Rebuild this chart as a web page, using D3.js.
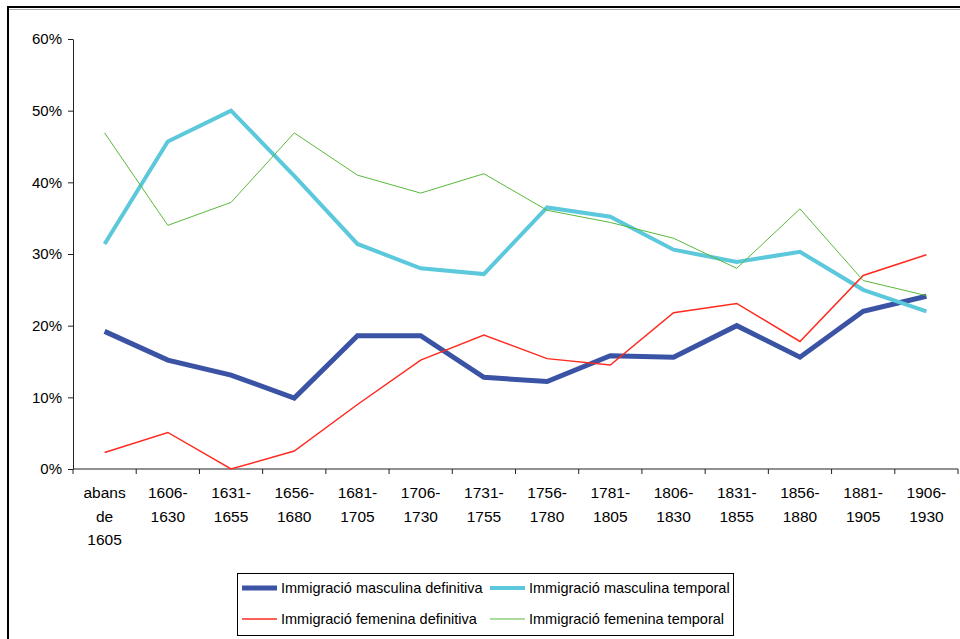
<!DOCTYPE html>
<html>
<head>
<meta charset="utf-8">
<script src="https://cdn.jsdelivr.net/npm/d3@7"></script>
<style>
  body { margin: 0; background: #fff; }
  svg { display: block; font-family: "Liberation Sans", Arial, sans-serif; }
</style>
</head>
<body>
<script>
// periods on the x axis (label lines split on "|")
const periods = ["abans|de|1605", "1606-|1630", "1631-|1655", "1656-|1680", "1681-|1705",
  "1706-|1730", "1731-|1755", "1756-|1780", "1781-|1805", "1806-|1830",
  "1831-|1855", "1856-|1880", "1881-|1905", "1906-|1930"];

// percent values
const mascDefinitiva = [19.2, 15.2, 13.1, 9.9, 18.6, 18.6, 12.8, 12.2, 15.8, 15.6, 20.0, 15.6, 22.0, 24.1];
const mascTemporal   = [31.4, 45.7, 50.0, 40.9, 31.4, 28.0, 27.2, 36.5, 35.2, 30.6, 28.9, 30.3, 25.0, 22.0];
const femDefinitiva  = [2.3, 5.1, 0.0, 2.5, 9.0, 15.2, 18.7, 15.4, 14.5, 21.8, 23.1, 17.8, 27.0, 29.9];
const femTemporal    = [46.9, 34.0, 37.2, 46.9, 41.0, 38.5, 41.2, 36.1, 34.4, 32.2, 28.0, 36.3, 26.3, 24.2];

const yTicks = [0, 10, 20, 30, 40, 50, 60];

const series = [
  { name: "Immigració masculina definitiva", values: mascDefinitiva, color: "#3b53a4", width: 5 },
  { name: "Immigració masculina temporal", values: mascTemporal, color: "#5cc8dc", width: 4 },
  { name: "Immigració femenina definitiva", values: femDefinitiva, color: "#ff2a1f", width: 1.5 },
  { name: "Immigració femenina temporal", values: femTemporal, color: "#58b93a", width: 1 }
];

const width = 960, height = 639;
const svg = d3.select("body").append("svg")
    .attr("width", width)
    .attr("height", height);

// outer chart frame (runs off the right and bottom edge)
svg.append("rect")
    .attr("x", 8).attr("y", 7)
    .attr("width", 1000).attr("height", 700)
    .attr("fill", "none")
    .attr("stroke", "#000")
    .attr("stroke-width", 2);
svg.append("line")
    .attr("x1", 9).attr("x2", 960)
    .attr("y1", 9.5).attr("y2", 9.5)
    .attr("stroke", "#aaa");

const x = d3.scaleBand()
    .domain(d3.range(periods.length))
    .range([73, 958])
    .padding(0);

const y = d3.scaleLinear()
    .domain([0, 60])
    .range([469, 39]);

const cx = i => x(i) + x.bandwidth() / 2;

// y axis
svg.append("g")
    .attr("transform", "translate(73,0)")
    .call(d3.axisLeft(y).tickValues(yTicks).tickSize(5).tickSizeOuter(0).tickFormat(d => d + "%"))
    .call(g => g.selectAll("text").attr("font-size", 15).attr("font-family", null).attr("fill", "#000").attr("dx", "-3"))
    .call(g => g.selectAll("line, path").attr("stroke", "#222"));

// x axis line + ticks at the category boundaries
const xAxis = svg.append("g").attr("transform", `translate(0,${y(0)})`);
xAxis.append("line")
    .attr("x1", 73).attr("x2", 958)
    .attr("stroke", "#222");
xAxis.selectAll("line.tick")
  .data(d3.range(periods.length + 1))
  .join("line")
    .attr("class", "tick")
    .attr("x1", i => i < periods.length ? x(i) : x(i - 1) + x.bandwidth())
    .attr("x2", i => i < periods.length ? x(i) : x(i - 1) + x.bandwidth())
    .attr("y1", 0).attr("y2", 5)
    .attr("stroke", "#222");

const labels = xAxis.selectAll("text")
  .data(periods)
  .join("text")
    .attr("text-anchor", "middle")
    .attr("font-size", 15.5)
    .attr("fill", "#000");
labels.selectAll("tspan")
  .data(d => d.split("|"))
  .join("tspan")
    .attr("x", function() { return cx(periods.indexOf(d3.select(this.parentNode).datum())); })
    .attr("y", (d, i) => 29 + i * 23.5)
    .text(d => d);

// lines
const line = d3.line()
    .x((d, i) => cx(i))
    .y(d => y(d));

svg.append("g")
  .selectAll("path")
  .data(series)
  .join("path")
    .attr("fill", "none")
    .attr("stroke", d => d.color)
    .attr("stroke-width", d => d.width)
    .attr("stroke-linejoin", "miter")
    .attr("d", d => line(d.values));

// legend
const legend = svg.append("g");
legend.append("rect")
    .attr("x", 237.5).attr("y", 573.5)
    .attr("width", 496).attr("height", 62)
    .attr("fill", "#fff")
    .attr("stroke", "#000");

const item = legend.selectAll("g.item")
  .data(series)
  .join("g")
    .attr("class", "item")
    .attr("transform", (d, i) => `translate(${i % 2 ? 490 : 242},${i < 2 ? 588 : 619})`);
item.append("line")
    .attr("x1", 0).attr("x2", 35)
    .attr("stroke", d => d.color)
    .attr("stroke-width", d => d.width);
item.append("text")
    .attr("x", 39)
    .attr("dy", "0.35em")
    .attr("font-size", 14.5)
    .attr("fill", "#000")
    .text(d => d.name);
</script>
</body>
</html>
